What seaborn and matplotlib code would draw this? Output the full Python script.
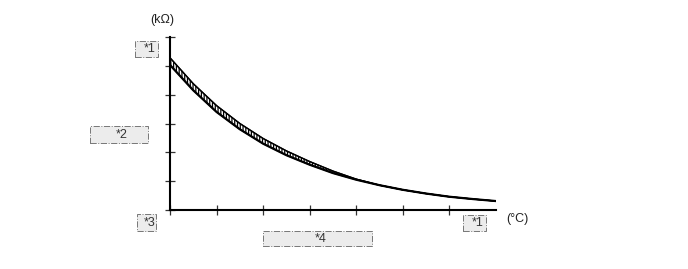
import matplotlib
matplotlib.use("Agg")
import matplotlib.pyplot as plt
import matplotlib.patches as mpatches
import seaborn as sns
import pandas as pd

# ---- data ----
temp_x = [0, 0.5, 1, 1.5, 2, 2.5, 3, 3.5, 4, 4.5, 5, 5.5, 6, 6.5, 7]
resist_lower = [5.03, 4.15, 3.40, 2.80, 2.30, 1.90, 1.57, 1.28, 1.05, 0.86, 0.70, 0.57, 0.46, 0.38, 0.31]
resist_upper = [5.28, 4.38, 3.62, 3.00, 2.48, 2.05, 1.68, 1.35, 1.07, 0.86, 0.70, 0.57, 0.46, 0.38, 0.31]
x_ticks = [0, 1, 2, 3, 4, 5, 6]
y_ticks = [0, 1, 2, 3, 4, 5, 6]
y_unit = "(kΩ)"
x_unit = "(°C)"
placeholder_labels = ["*1", "*2", "*3", "*4", "*1"]

sns.set_style("white")
plt.rcParams["font.family"] = ["Liberation Sans", "DejaVu Sans"]
plt.rcParams["hatch.linewidth"] = 0.9

W, H = 688, 269
fig = plt.figure(figsize=(W / 100, H / 100), dpi=100)

def fx(x):
    return x / W

def fy(y):
    return 1 - y / H

ax = fig.add_axes([fx(170), fy(210), (496 - 170) / W, (210 - 37) / H])

df = pd.DataFrame({"t": temp_x, "lo": resist_lower, "hi": resist_upper})
ax.fill_between(df["t"], df["lo"], df["hi"], facecolor="white", edgecolor="black",
                hatch="||||||", linewidth=0.9, zorder=2)
sns.lineplot(data=df, x="t", y="lo", ax=ax, color="black", linewidth=1.6, zorder=3)
sns.lineplot(data=df, x="t", y="hi", ax=ax, color="black", linewidth=1.0, zorder=3)

ax.set_xlim(0, 7)
ax.set_ylim(0, 6)
ax.set_xticks(x_ticks)
ax.set_yticks(y_ticks)
ax.set_xticklabels([])
ax.set_yticklabels([])
ax.set_xlabel("")
ax.set_ylabel("")
for s in ["top", "right"]:
    ax.spines[s].set_visible(False)
for s in ["left", "bottom"]:
    ax.spines[s].set_color("black")
    ax.spines[s].set_linewidth(1.5)
ax.tick_params(axis="both", direction="inout", length=7.5, width=0.9, color="#333333",
               bottom=True, left=True)
ax.patch.set_alpha(0)

fig.text(fx(162), fy(20), y_unit, ha="center", va="center", fontsize=9, color="#222222")
fig.text(fx(517), fy(219), x_unit, ha="center", va="center", fontsize=9, color="#222222")

# placeholder boxes (pixel extents: x0, y0, x1, y1)
boxes = [(135, 41, 158, 57), (90, 126, 148, 143), (137, 214, 156, 231),
         (263, 231, 372, 246), (463, 215, 486, 231)]
for (x0, y0, x1, y1), lab in zip(boxes, placeholder_labels):
    rect = mpatches.Rectangle((fx(x0), fy(y1)), (x1 - x0) / W, (y1 - y0) / H,
                              transform=fig.transFigure, facecolor="#ececec",
                              edgecolor="#777777", linestyle="-.", linewidth=0.7)
    fig.patches.append(rect)
    cx = (x0 + x1) / 2 + 3
    fig.text(fx(cx), fy((y0 + y1) / 2), lab, ha="center", va="center",
             fontsize=9, color="#333333")

fig.savefig("out.png", dpi=100)
